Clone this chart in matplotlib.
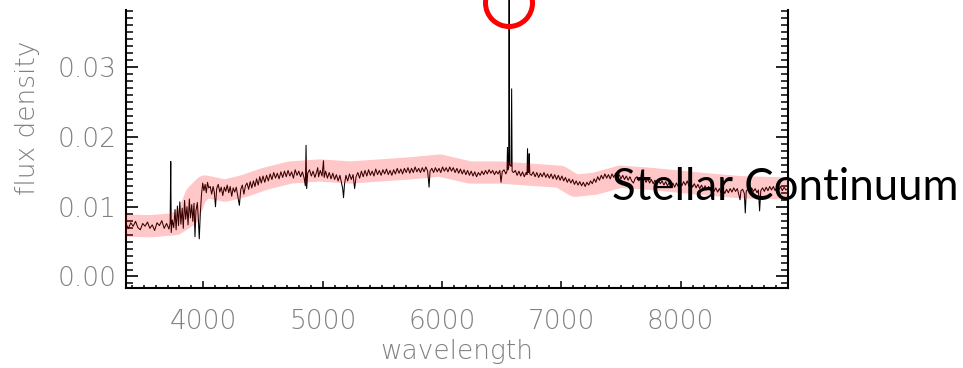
import matplotlib
matplotlib.use("Agg")
import matplotlib.pyplot as plt
import numpy as np
from matplotlib.patches import Ellipse
from matplotlib.ticker import MultipleLocator, FormatStrFormatter

# spectrum (flux in units of 1e-3)
wave = [3352, 3372, 3392, 3412, 3432, 3452, 3472, 3492, 3512, 3532,
        3552, 3572, 3592, 3612, 3632, 3652, 3672, 3692, 3712, 3722,
        3727, 3731, 3740, 3752, 3763, 3772, 3783, 3792, 3803, 3812,
        3823, 3832, 3843, 3852, 3863, 3872, 3883, 3892, 3903, 3912,
        3922, 3930, 3938, 3950, 3958, 3966, 3975, 3985, 3995, 4005,
        4015, 4025, 4035, 4045, 4058, 4070, 4082, 4092, 4102, 4112,
        4125, 4138, 4150, 4163, 4176, 4188, 4200, 4213, 4225, 4238,
        4250, 4263, 4276, 4290, 4302, 4314, 4327, 4340, 4353, 4366,
        4380, 4393, 4406, 4420, 4433, 4446, 4460, 4473, 4486, 4500,
        4515, 4530, 4545, 4560, 4575, 4590, 4605, 4620, 4635, 4650,
        4665, 4680, 4695, 4710, 4725, 4740, 4755, 4770, 4785, 4800,
        4815, 4830, 4845, 4855, 4861, 4866, 4875, 4890, 4905, 4920,
        4935, 4950, 4959, 4966, 4980, 4995, 5007, 5013, 5025, 5040,
        5055, 5070, 5085, 5100, 5115, 5130, 5145, 5160, 5168, 5175,
        5183, 5195, 5210, 5225, 5240, 5255, 5268, 5280, 5295, 5310,
        5325, 5340, 5355, 5370, 5385, 5400, 5415, 5430, 5445, 5460,
        5475, 5490, 5505, 5520, 5535, 5550, 5565, 5580, 5595, 5610,
        5625, 5640, 5655, 5670, 5685, 5700, 5715, 5730, 5745, 5760,
        5775, 5790, 5805, 5820, 5835, 5850, 5865, 5880, 5892, 5900,
        5915, 5930, 5945, 5960, 5975, 5990, 6005, 6020, 6035, 6050,
        6065, 6080, 6095, 6110, 6125, 6140, 6155, 6170, 6185, 6200,
        6215, 6230, 6245, 6260, 6275, 6290, 6305, 6320, 6335, 6350,
        6365, 6380, 6395, 6410, 6425, 6440, 6455, 6470, 6485, 6495,
        6505, 6520, 6535, 6545, 6549, 6553, 6559, 6563, 6567, 6579,
        6584, 6588, 6600, 6615, 6630, 6645, 6660, 6675, 6690, 6705,
        6713, 6717, 6722, 6728, 6731, 6736, 6750, 6765, 6780, 6795,
        6810, 6825, 6840, 6855, 6870, 6885, 6900, 6915, 6930, 6945,
        6960, 6975, 6990, 7005, 7020, 7035, 7050, 7065, 7080, 7095,
        7110, 7125, 7140, 7155, 7170, 7185, 7200, 7215, 7230, 7245,
        7260, 7275, 7290, 7305, 7320, 7335, 7350, 7365, 7380, 7395,
        7410, 7425, 7440, 7455, 7470, 7485, 7500, 7515, 7530, 7545,
        7560, 7575, 7590, 7605, 7620, 7635, 7650, 7665, 7680, 7695,
        7710, 7725, 7740, 7755, 7770, 7785, 7800, 7815, 7830, 7845,
        7860, 7875, 7890, 7905, 7920, 7935, 7950, 7965, 7980, 7995,
        8010, 8025, 8040, 8055, 8070, 8085, 8100, 8115, 8130, 8145,
        8160, 8175, 8190, 8205, 8220, 8235, 8250, 8265, 8280, 8295,
        8310, 8325, 8340, 8355, 8370, 8385, 8400, 8415, 8430, 8445,
        8460, 8475, 8490, 8498, 8506, 8520, 8534, 8542, 8550, 8565,
        8580, 8595, 8610, 8625, 8640, 8652, 8662, 8672, 8687, 8702,
        8717, 8732, 8747, 8762, 8777, 8792, 8807, 8822, 8837, 8852,
        8867, 8882, 8900]

flux_e3 = [7.5, 6.9, 7.7, 7.2, 7.9, 7.0, 6.7, 7.6, 7.2, 7.8,
           6.9, 7.4, 6.6, 7.7, 7.3, 8.0, 6.9, 7.6, 6.8, 7.7,
           16.5, 6.3, 8.1, 7.0, 9.6, 6.7, 10.1, 7.3, 10.7, 7.5,
           9.8, 6.9, 10.9, 8.2, 10.0, 7.4, 11.1, 8.4, 10.3, 7.9,
           10.5, 5.7, 9.4, 10.6, 8.4, 5.4, 9.1, 11.8, 13.4, 12.3,
           13.2, 12.0, 13.5, 12.7, 12.9, 11.8, 12.9, 12.1, 10.0, 12.6,
           13.2, 12.1, 12.8, 11.6, 12.8, 12.2, 13.1, 12.0, 12.9, 11.5,
           12.7, 12.1, 12.8, 11.4, 10.2, 12.5, 13.1, 11.8, 13.0, 13.4,
           12.5, 13.6, 12.7, 13.7, 12.9, 14.0, 13.1, 14.3, 13.4, 14.4,
           13.5, 14.5, 13.7, 14.7, 13.9, 14.9, 14.1, 14.8, 14.0, 15.0,
           14.2, 15.1, 14.3, 15.2, 14.4, 15.0, 14.1, 15.3, 14.5, 15.1,
           14.3, 15.0, 14.1, 13.0, 18.8, 12.6, 14.8, 15.3, 14.4, 15.1,
           14.2, 15.0, 15.6, 14.3, 15.2, 14.4, 16.6, 14.2, 15.1, 14.1,
           14.9, 14.0, 14.8, 13.9, 14.6, 13.7, 14.5, 13.3, 12.6, 11.3,
           13.2, 14.5, 13.7, 14.7, 13.9, 14.6, 12.6, 14.3, 14.9, 14.1,
           15.1, 14.3, 15.2, 14.4, 15.3, 14.5, 15.1, 14.4, 15.4, 14.6,
           15.2, 14.5, 15.3, 14.7, 15.4, 14.6, 15.2, 14.5, 15.3, 14.7,
           15.5, 14.8, 15.4, 14.7, 15.5, 14.9, 15.6, 14.8, 15.5, 14.9,
           15.7, 15.0, 15.5, 14.9, 15.6, 15.0, 15.7, 15.1, 12.8, 15.1,
           15.5, 14.9, 15.6, 15.0, 15.5, 14.9, 15.7, 15.1, 15.6, 15.0,
           15.7, 15.1, 15.6, 14.9, 15.5, 14.8, 15.4, 14.7, 15.3, 14.6,
           15.2, 14.5, 15.1, 14.4, 15.0, 14.3, 14.9, 14.5, 15.1, 14.6,
           15.2, 14.7, 15.3, 14.8, 15.2, 14.6, 15.1, 14.7, 15.2, 13.5,
           15.0, 15.3, 14.7, 15.1, 18.5, 15.3, 15.6, 40.5, 16.0, 15.8,
           26.9, 15.1, 14.9, 15.2, 14.5, 15.1, 14.4, 15.0, 14.3, 14.9,
           14.6, 18.3, 14.9, 15.0, 17.6, 14.7, 14.5, 15.0, 14.3, 14.9,
           14.2, 14.8, 14.3, 14.9, 14.2, 14.7, 14.1, 14.7, 14.0, 14.6,
           13.9, 14.5, 13.8, 14.4, 13.7, 14.2, 13.5, 14.0, 13.4, 13.9,
           13.2, 13.7, 13.1, 13.6, 13.0, 13.5, 12.9, 13.5, 13.1, 13.7,
           13.3, 14.0, 13.5, 14.3, 13.8, 14.5, 14.0, 14.7, 14.1, 14.6,
           14.0, 14.7, 14.2, 14.8, 14.1, 14.6, 14.0, 14.5, 13.9, 14.4,
           13.8, 14.3, 13.7, 13.4, 14.1, 14.3, 13.7, 14.2, 13.6, 14.1,
           13.5, 14.0, 13.4, 13.9, 13.3, 13.8, 13.2, 13.8, 13.3, 13.7,
           13.1, 13.6, 13.0, 13.5, 12.9, 13.4, 12.8, 13.4, 12.9, 13.5,
           13.0, 13.6, 13.1, 13.7, 13.0, 13.5, 12.8, 13.3, 12.7, 13.2,
           12.6, 13.1, 12.5, 13.0, 12.4, 12.9, 12.3, 12.8, 12.2, 12.7,
           12.1, 12.6, 12.0, 12.5, 11.9, 12.5, 12.0, 12.6, 12.1, 12.7,
           12.2, 12.6, 11.6, 11.0, 12.3, 12.5, 11.9, 9.1, 12.2, 12.6,
           12.1, 12.7, 12.2, 12.6, 12.0, 12.4, 9.4, 12.3, 12.7, 12.2,
           12.8, 12.3, 12.9, 12.4, 12.9, 12.3, 12.8, 12.4, 12.9, 12.3,
           12.8, 12.4, 12.6]

# smooth "stellar continuum" band
band_wave = [3352, 3553, 3763, 3872, 3939, 4014, 4182, 4349, 4517, 4727,
             4978, 5230, 5481, 5733, 5984, 6235, 6487, 6738, 6990, 7116,
             7283, 7493, 7744, 8163, 8499, 8901]
band_flux_e3 = [7.3, 7.2, 7.5, 8.7, 11.6, 12.9, 12.3, 13.0, 14.0, 14.9,
                15.2, 14.9, 15.2, 15.5, 15.9, 14.9, 14.9, 14.6, 14.3, 13.0,
                13.3, 14.3, 14.0, 13.3, 12.8, 12.6]

W, H = 963, 368
fig = plt.figure(figsize=(W / 100, H / 100), dpi=100)
ax = fig.add_axes([126 / W, 1 - 288 / H, 662 / W, 278 / H])

flux = np.array(flux_e3) * 1e-3
band = np.array(band_flux_e3) * 1e-3

ax.plot(wave, flux, color='black', linewidth=0.75, clip_on=False, zorder=2)
ax.plot(band_wave, band, color='red', alpha=0.22, linewidth=16,
        solid_capstyle='round', solid_joinstyle='round', zorder=3)

ax.set_xlim(3352, 8900)
ax.set_ylim(-0.00165, 0.0382)

gray = '#808080'
ax.xaxis.set_major_locator(MultipleLocator(1000))
ax.xaxis.set_minor_locator(MultipleLocator(100))
ax.yaxis.set_major_locator(MultipleLocator(0.01))
ax.yaxis.set_minor_locator(MultipleLocator(0.001))
ax.yaxis.set_major_formatter(FormatStrFormatter('%.2f'))

ax.tick_params(axis='y', which='major', direction='in', length=8.5, width=1.2,
               left=True, right=True, labelsize=19, labelcolor=gray, pad=7)
ax.tick_params(axis='y', which='minor', direction='in', length=5, width=1.1,
               left=True, right=True)
ax.tick_params(axis='x', which='major', direction='in', length=5, width=1.1,
               top=False, labelsize=19, labelcolor=gray, pad=15)
ax.tick_params(axis='x', which='minor', direction='in', length=2.2, width=1.1,
               top=False)
for lbl in ax.get_xticklabels() + ax.get_yticklabels():
    lbl.set_fontweight('light')

ax.spines['top'].set_visible(False)
for s in ['left', 'right', 'bottom']:
    ax.spines[s].set_linewidth(1.5)

ax.set_xlabel('wavelength', fontsize=19, color=gray, fontweight='light', labelpad=4)
fig.text(27 / W, 1 - 118 / H, 'flux density', rotation=90, fontsize=19,
         color=gray, fontweight='light', ha='center', va='center')

# annotation text and red circle round the H-alpha peak
fig.text(612 / W, 1 - 200 / H, 'Stellar Continuum', fontsize=31.5,
         family='Lato', color='black', va='baseline', ha='left')
fig.add_artist(Ellipse((509 / W, 1 - 3 / H), 47 / W, 47 / H, fill=False,
                       edgecolor='red', linewidth=3.6, transform=fig.transFigure))

fig.savefig('out.png', dpi=100)
